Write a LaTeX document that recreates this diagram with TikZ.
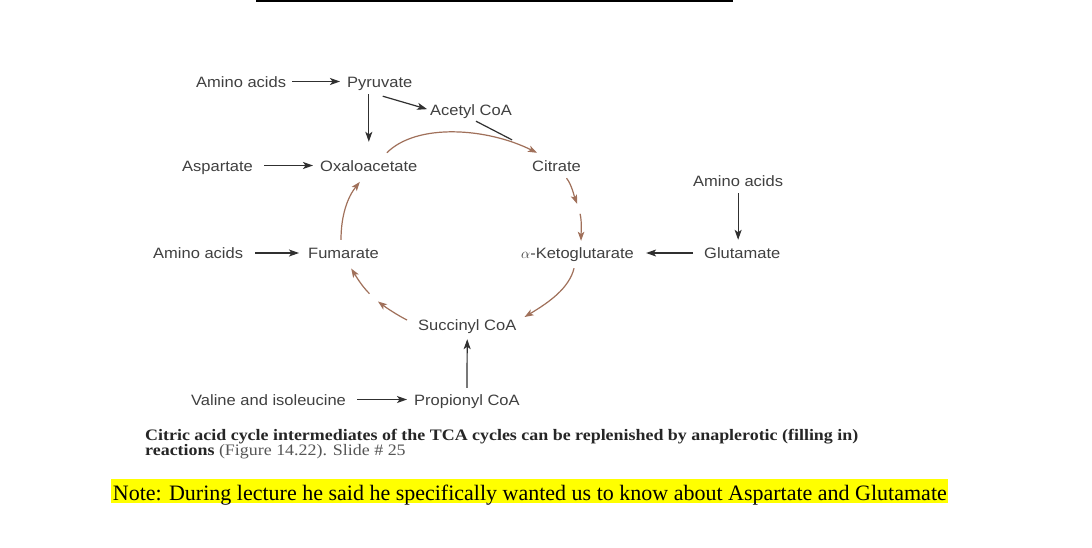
\documentclass[tikz,border=0pt]{standalone}
\usepackage{fontspec}
\setmainfont{Liberation Serif}
\newfontfamily\labfont[FakeStretch=1.1]{Liberation Sans}
\newfontfamily\capfont[FakeStretch=1.12]{Liberation Serif}
\usetikzlibrary{arrows.meta,calc}
\definecolor{txtgray}{HTML}{404040}
\definecolor{arrgray}{HTML}{303030}
\definecolor{cycbrown}{HTML}{A0705A}
\definecolor{hilite}{HTML}{FFFF00}
\definecolor{capdark}{HTML}{262626}
\definecolor{capgray}{HTML}{555555}
\begin{document}
\begin{tikzpicture}[x=1pt,y=-1pt,
  lab/.style={font=\labfont\fontsize{15}{18}\selectfont, text=txtgray, inner sep=0pt,
    text height=11pt, text depth=0pt, anchor=base west},
  blk/.style={draw=arrgray, line width=1.2pt, -{Stealth[length=10pt,width=7pt,inset=2.5pt]}},
  plainln/.style={draw=arrgray, line width=1.2pt},
  cyc/.style={draw=cycbrown, line width=1.2pt, -{Stealth[length=9pt,width=6.5pt,inset=2.2pt]}},
  captxt/.style={anchor=base west, inner sep=0pt, font=\capfont\fontsize{16}{18}\selectfont}]
\useasboundingbox (0,0) rectangle (1092,547);
\fill[white] (0,0) rectangle (1092,547);
\draw[line width=2pt] (256,1) -- (733,1);

% labels
\node[lab] (aa1) at (196,87) {Amino acids};
\node[lab] (pyr) at (347,87) {Pyruvate};
\node[lab] (acc) at (430,115.5) {Acetyl CoA};
\node[lab] (asp) at (182,171) {Aspartate};
\node[lab] (oxa) at (320,171) {Oxaloacetate};
\node[lab] (cit) at (532,171) {Citrate};
\node[lab] (aa2) at (693,186.5) {Amino acids};
\node[lab] (aa3) at (153,258.5) {Amino acids};
\node[lab] (fum) at (308,258.5) {Fumarate};
\node[lab] (akg) at (521,258.5) {$\alpha$-Ketoglutarate};
\node[lab] (glu) at (704,258.5) {Glutamate};
\node[lab] (suc) at (418,330) {Succinyl CoA};
\node[lab] (val) at (191,405) {Valine and isoleucine};
\node[lab] (pro) at (414,405) {Propionyl CoA};

% black arrows
\draw[blk, shorten <=6pt, shorten >=7pt] (aa1.east) -- (pyr.west);
\draw[blk, shorten <=11pt, shorten >=7pt] (asp.east) -- (oxa.west);
\draw[blk, shorten <=12pt, shorten >=9pt] (aa3.east) -- (fum.west);
\draw[blk, shorten <=11pt, shorten >=7pt] (val.east) -- (pro.west);
\draw[blk, shorten <=11pt, shorten >=12pt] (glu.west) -- (akg.east);
\draw[blk, shorten <=7pt, shorten >=18pt] (pyr.south -| oxa.north) -- (oxa.north);
\draw[blk, shorten <=6.5pt, shorten >=7.5pt] (aa2.south) -- (aa2.south |- glu.north);
\draw[blk, shorten <=6pt, shorten >=9pt] (pro.north) -- (suc.south);
\draw[blk, shorten >=3pt] ([shift={(3,9)}]pyr.south) -- (acc.west);
\draw[plainln, shorten >=28pt] ([shift={(5,5.5)}]acc.south) -- ([shift={(5,-7)}]cit.north west);

% cycle
\draw[cyc] ([shift={(18,-7)}]oxa.north) .. controls +(30,-30) and +(-50,-25) .. ([shift={(5,-7)}]cit.north west);
\draw[cyc] ([shift={(10,7)}]cit.south) .. controls +(5,6) and +(-3,-8) .. ([shift={(-0.5,-43.5)}]akg.north);
\draw[cyc] ([shift={(2.5,-33.5)}]akg.north) .. controls +(2,8) and +(0,-8) .. ([shift={(3.5,-6.5)}]akg.north);
\draw[cyc] ([shift={(-3.5,9.5)}]akg.south) .. controls +(-5,20) and +(25,-15) .. ([shift={(8,-7.5)}]suc.east);
\draw[cyc] ([shift={(-11,-4.5)}]suc.west) .. controls +(-10,-5) and +(8,6) .. ([shift={(-40,-23)}]suc.west);
\draw[cyc] ([shift={(26,35)}]fum.south) .. controls +(-8,-8) and +(5,8) .. ([shift={(7.7,9.8)}]fum.south);
\draw[cyc] ([shift={(-2.5,-7.5)}]fum.north) .. controls +(0,-25) and +(-12,15) .. ([shift={(-9,10.7)}]oxa.south);

% caption
\node[captxt, text=capdark] (cap1) at (145,440) {\textbf{Citric acid cycle intermediates of the TCA cycles can be replenished by anaplerotic (filling in)}};
\node[captxt, text=capgray] (cap2) at (145,455.7) {\textbf{\color{capdark}reactions} (Figure 14.22). Slide \# 25};

% note
\node[anchor=base west, fill=hilite, inner xsep=1.5pt, inner ysep=0pt, text height=20.7pt, text depth=3.3pt,
  font=\fontsize{22}{24}\selectfont] (note) at (111.2,500) {Note: During lecture he said he specifically wanted us to know about Aspartate and Glutamate};
\end{tikzpicture}
\end{document}
